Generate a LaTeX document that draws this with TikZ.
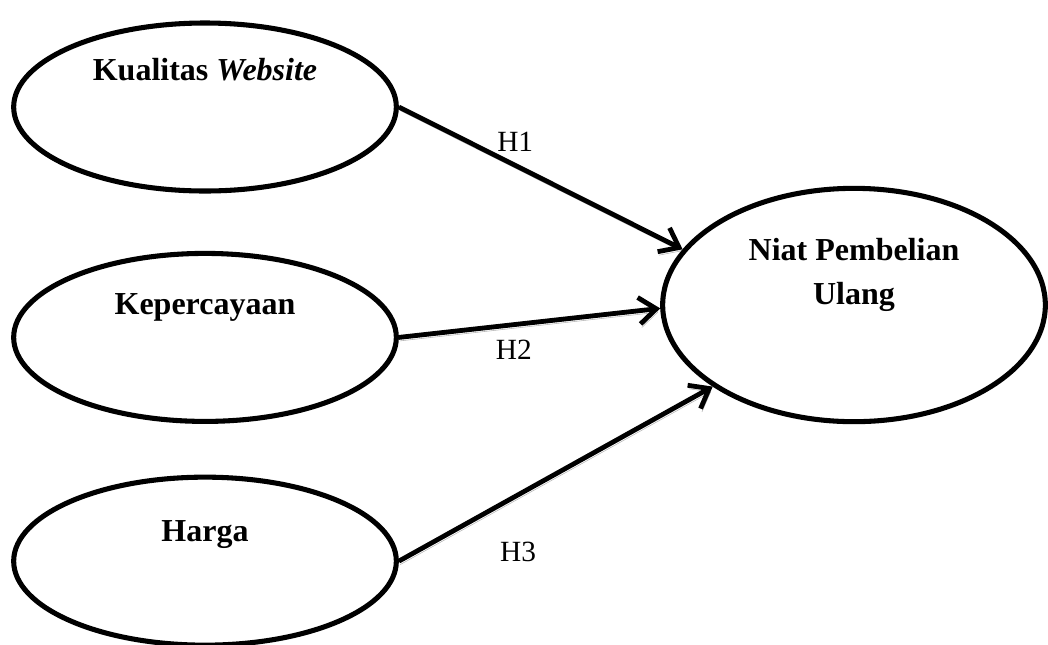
\documentclass[tikz,border=0pt]{standalone}
\usepackage{fontspec}
\setmainfont{Liberation Serif}
\usetikzlibrary{shapes.geometric}
\usetikzlibrary{positioning}
\usetikzlibrary{arrows.meta}
\tikzset{
    x=0.75pt, y=-0.75pt, % one unit is one pixel of the page
    construct/.style={ % Sets the properties for each variable
        draw, ellipse,
        line width=3.8pt,
        minimum width=287pt,
        minimum height=126pt,
        inner sep=0pt
    },
    constructname/.style={
        font=\fontsize{24}{32.5}\selectfont\bfseries,
        inner sep=0pt,
        align=center
    },
    hyplabel/.style={
        font=\fontsize{22}{26}\selectfont,
        inner sep=0pt
    },
    every edge/.style={ % Sets the properties for each hypothesis
        draw,
        line width=3.6pt,
        -{Straight Barb[length=13pt,width=20pt]}, % open head
        preaction={draw=gray!60, transform canvas={xshift=1pt,yshift=-2.6pt}} % shadow
    }
}

\begin{document}
\begin{tikzpicture}
    \useasboundingbox (0,0) rectangle (1048,644);

    \node[construct] (kw) at (205,107) {};
    \node[construct, below=43pt of kw] (kp) {};
    \node[construct, below=38pt of kp] (hg) {};
    \node[construct, minimum height=175pt] (npu) at (854,305) {};

    \node[constructname, anchor=base] (kw-name) at ([yshift=20pt]kw.center) {Kualitas \textit{Website}};
    \node[constructname, anchor=base] (kp-name) at ([yshift=17pt]kp.center) {Kepercayaan};
    \node[constructname, anchor=base] (hg-name) at ([yshift=15pt]hg.center) {Harga};
    \node[constructname, anchor=north] (npu-name) at ([yshift=50pt]npu.center) {Niat Pembelian\\Ulang};

    \draw (kw.east) edge node[hyplabel, pos=0.41, above=8.5pt] {H1} (npu.162);
    \draw (kp.east) edge node[hyplabel, pos=0.44, below=10pt] {H2} (npu.181);
    \draw (hg.east) edge node[hyplabel, pos=0.38, below=33.5pt] {H3} (npu.210);
\end{tikzpicture}
\end{document}
